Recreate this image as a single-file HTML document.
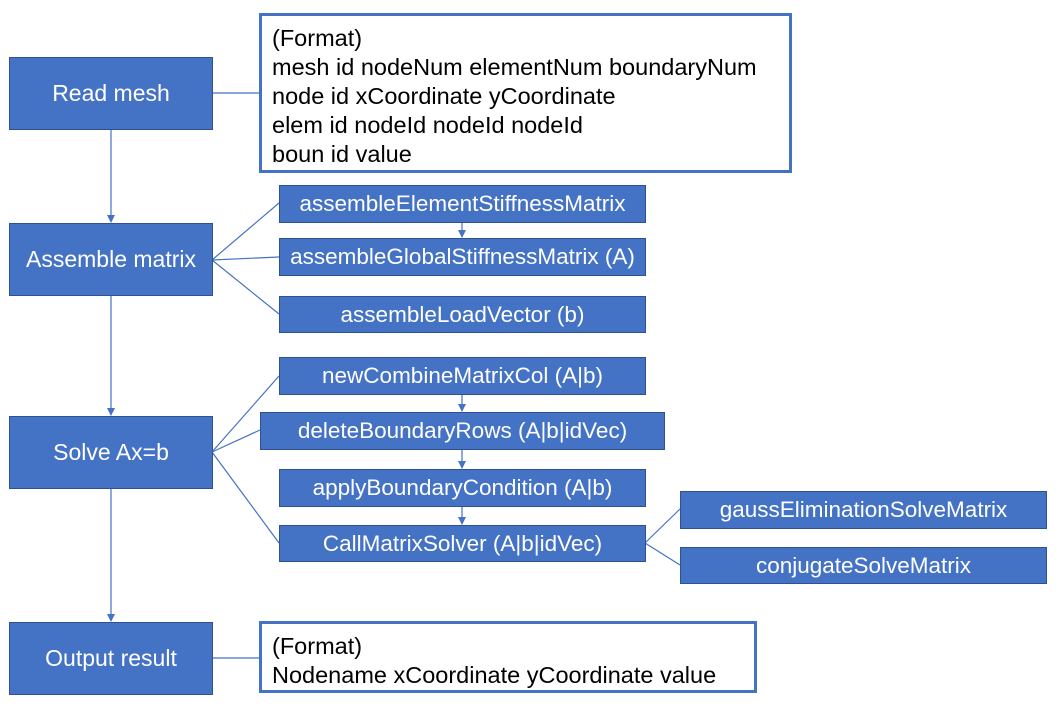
<!DOCTYPE html>
<html><head><meta charset="utf-8"><style>
body{margin:0;width:1060px;height:708px;background:#fff;position:relative;overflow:hidden;font-family:"Liberation Sans","Noto Sans CJK SC",sans-serif}
.b{position:absolute;background:#4472c4;border:1px solid #2f528f;box-sizing:border-box;color:#fff;display:flex;align-items:center;justify-content:center;font-size:23px;white-space:nowrap}
.s{font-size:22.5px}
.f{position:absolute;border:3px solid #4472c4;box-sizing:border-box;background:#fff;color:#000;font-size:23.5px;line-height:29px;padding:8px 0 0 10px;white-space:nowrap}
svg{position:absolute;left:0;top:0}
</style></head><body>
<svg width="1060" height="708">
<defs><marker id="a" markerWidth="8" markerHeight="8" refX="7" refY="4" orient="auto" markerUnits="userSpaceOnUse"><path d="M0,0L8,4L0,8z" fill="#4472c4"/></marker></defs>
<g stroke="#4472c4" stroke-width="1.2" fill="none">
<line x1="212" y1="93" x2="259" y2="93"/>
<line x1="212" y1="658" x2="259" y2="658"/>
<line x1="212" y1="260" x2="279" y2="203"/>
<line x1="212" y1="260" x2="279" y2="257"/>
<line x1="212" y1="260" x2="279" y2="314"/>
<line x1="212" y1="452" x2="279" y2="376"/>
<line x1="212" y1="452" x2="260" y2="430"/>
<line x1="212" y1="452" x2="279" y2="543"/>
<line x1="645" y1="543" x2="680" y2="509"/>
<line x1="645" y1="543" x2="680" y2="565"/>
<line x1="111" y1="129" x2="111" y2="222" marker-end="url(#a)"/>
<line x1="111" y1="295" x2="111" y2="415" marker-end="url(#a)"/>
<line x1="111" y1="488" x2="111" y2="621" marker-end="url(#a)"/>
<line x1="462" y1="222" x2="462" y2="237" marker-end="url(#a)"/>
<line x1="462" y1="394" x2="462" y2="411" marker-end="url(#a)"/>
<line x1="462" y1="449" x2="462" y2="468" marker-end="url(#a)"/>
<line x1="462" y1="506" x2="462" y2="524" marker-end="url(#a)"/>
</g></svg>
<div class="b" style="left:9px;top:57px;width:204px;height:73px">Read mesh</div>
<div class="b" style="left:9px;top:223px;width:204px;height:73px">Assemble matrix</div>
<div class="b" style="left:9px;top:416px;width:204px;height:73px">Solve Ax=b</div>
<div class="b" style="left:9px;top:622px;width:204px;height:73px">Output result</div>
<div class="f" style="left:259px;top:13px;width:533px;height:160px">(Format)<br>mesh id nodeNum elementNum boundaryNum<br>node id xCoordinate yCoordinate<br>elem id nodeId nodeId nodeId<br>boun id value</div>
<div class="f" style="left:259px;top:621px;width:498px;height:72px">(Format)<br>Nodename xCoordinate yCoordinate value</div>
<div class="b s" style="left:279px;top:185px;width:367px;height:38px">assembleElementStiffnessMatrix</div>
<div class="b s" style="left:279px;top:238px;width:367px;height:38px">assembleGlobalStiffnessMatrix (A)</div>
<div class="b s" style="left:279px;top:296px;width:367px;height:37px">assembleLoadVector (b)</div>
<div class="b s" style="left:279px;top:357px;width:367px;height:38px">newCombineMatrixCol (A|b)</div>
<div class="b s" style="left:260px;top:412px;width:405px;height:38px">deleteBoundaryRows (A|b|idVec)</div>
<div class="b s" style="left:279px;top:469px;width:367px;height:38px">applyBoundaryCondition (A|b)</div>
<div class="b s" style="left:279px;top:525px;width:367px;height:37px">CallMatrixSolver (A|b|idVec)</div>
<div class="b s" style="left:680px;top:491px;width:367px;height:38px">gaussEliminationSolveMatrix</div>
<div class="b s" style="left:680px;top:547px;width:367px;height:37px">conjugateSolveMatrix</div>
</body></html>
